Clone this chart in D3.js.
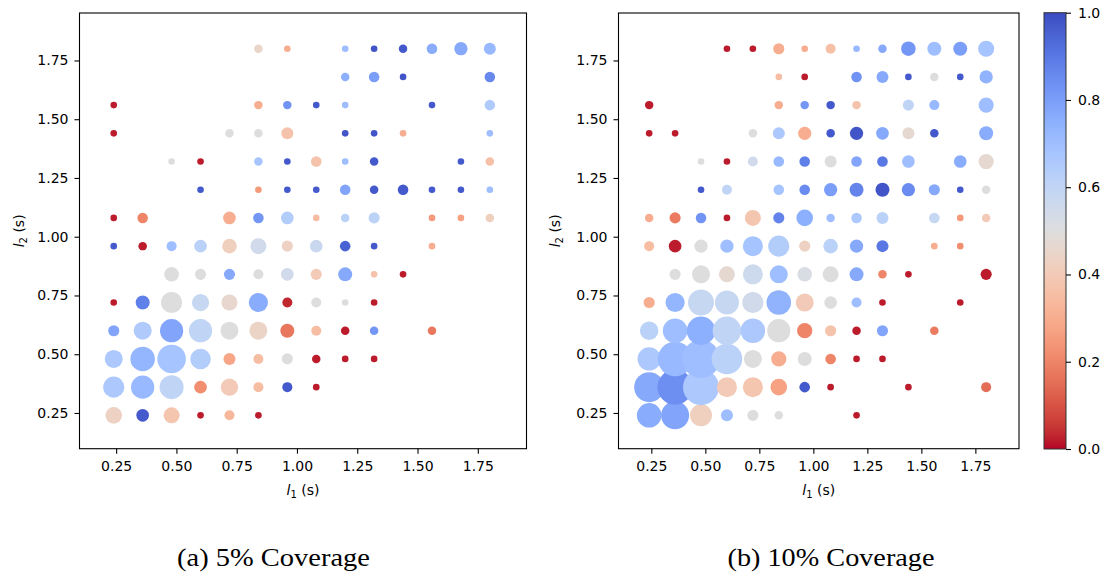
<!DOCTYPE html>
<html><head><meta charset="utf-8">
<script src="https://cdn.jsdelivr.net/npm/d3@7"></script>
<style>body{margin:0;background:#fff} svg{display:block}</style>
</head><body><svg id="c" width="1114" height="578"></svg>
<script>
// ---- data ----
const axisTicks = [0.25, 0.50, 0.75, 1.00, 1.25, 1.50, 1.75];
const colorbarTicks = [0.0, 0.2, 0.4, 0.6, 0.8, 1.0];
const captions = ["(a) 5% Coverage", "(b) 10% Coverage"];
// each point: [l1, l2, colour value, marker size]
const coverage5 = [
 [.84,1.80,.45,18],[.96,1.80,.30,11],[1.20,1.80,.70,11],[1.32,1.80,.98,11],[1.44,1.80,.97,18],[1.56,1.80,.76,28],[1.68,1.80,.77,44],[1.80,1.80,.72,36],
 [1.20,1.68,.75,18],[1.32,1.68,.80,28],[1.44,1.68,.98,11],[1.80,1.68,.86,28],
 [.24,1.56,.02,11],[.84,1.56,.30,18],[.96,1.56,.83,18],[1.08,1.56,.97,11],[1.20,1.56,.70,11],[1.56,1.56,.97,11],[1.80,1.56,.65,28],
 [.24,1.44,.02,11],[.72,1.44,.50,18],[.84,1.44,.50,18],[.96,1.44,.37,36],[1.20,1.44,.98,11],[1.32,1.44,.98,11],[1.44,1.44,.30,11],[1.80,1.44,.70,11],
 [.48,1.32,.50,11],[.60,1.32,.02,11],[.84,1.32,.68,18],[.96,1.32,.97,11],[1.08,1.32,.37,28],[1.20,1.32,.70,11],[1.32,1.32,.97,18],[1.68,1.32,.97,11],[1.80,1.32,.36,18],
 [.60,1.20,.97,11],[.84,1.20,.25,11],[.96,1.20,.97,11],[1.08,1.20,.97,11],[1.20,1.20,.78,28],[1.32,1.20,.97,18],[1.44,1.20,.97,28],[1.56,1.20,.97,11],[1.68,1.20,.97,11],[1.80,1.20,.70,11],
 [.24,1.08,.02,11],[.36,1.08,.20,28],[.72,1.08,.30,40],[.84,1.08,.82,28],[.96,1.08,.64,40],[1.08,1.08,.35,11],[1.20,1.08,.62,18],[1.32,1.08,.61,31],[1.56,1.08,.25,11],[1.68,1.08,.27,11],[1.80,1.08,.42,18],
 [.24,.96,.97,11],[.36,.96,.02,18],[.48,.96,.70,25],[.60,.96,.62,40],[.72,.96,.42,53],[.84,.96,.55,64],[.96,.96,.43,31],[1.08,.96,.57,40],[1.20,.96,.95,28],[1.32,.96,.97,11],[1.56,.96,.30,11],
 [.48,.84,.50,53],[.60,.84,.50,31],[.72,.84,.77,31],[.84,.84,.50,25],[.96,.84,.55,40],[1.08,.84,.40,31],[1.20,.84,.77,49],[1.32,.84,.37,11],[1.44,.84,.02,11],
 [.24,.72,.02,11],[.36,.72,.88,49],[.48,.72,.50,112],[.60,.72,.58,74],[.72,.72,.46,64],[.84,.72,.76,92],[.96,.72,.03,25],[1.08,.72,.50,25],[1.20,.72,.50,11],[1.32,.72,.02,11],
 [.24,.60,.78,31],[.36,.60,.65,81],[.48,.60,.78,135],[.60,.60,.60,135],[.72,.60,.50,81],[.84,.60,.44,81],[.96,.60,.17,49],[1.08,.60,.35,25],[1.20,.60,.02,18],[1.32,.60,.82,18],[1.56,.60,.17,18],
 [.24,.48,.66,81],[.36,.48,.73,151],[.48,.48,.68,204],[.60,.48,.64,106],[.72,.48,.28,36],[.84,.48,.35,25],[.96,.48,.50,31],[1.08,.48,.02,18],[1.20,.48,.02,11],[1.32,.48,.02,11],
 [.24,.36,.66,112],[.36,.36,.72,135],[.48,.36,.60,144],[.60,.36,.22,40],[.72,.36,.40,74],[.84,.36,.35,25],[.96,.36,.97,25],[1.08,.36,.02,11],
 [.24,.24,.43,69],[.36,.24,.97,40],[.48,.24,.38,64],[.60,.24,.02,11],[.72,.24,.33,25],[.84,.24,.02,11]
];
const coverage10 = [
 [.60,1.80,.02,11],[.72,1.80,.02,11],[.84,1.80,.30,31],[.96,1.80,.30,11],[1.08,1.80,.36,25],[1.20,1.80,.72,11],[1.32,1.80,.77,18],[1.44,1.80,.82,53],[1.56,1.80,.70,49],[1.68,1.80,.80,49],[1.80,1.80,.68,64],
 [.84,1.68,.35,11],[.96,1.68,.02,11],[1.20,1.68,.83,28],[1.32,1.68,.77,36],[1.44,1.68,.97,11],[1.56,1.68,.50,18],[1.68,1.68,.97,11],[1.80,1.68,.74,44],
 [.24,1.56,.02,18],[.84,1.56,.30,18],[.96,1.56,.82,18],[1.08,1.56,.97,18],[1.20,1.56,.37,18],[1.44,1.56,.60,31],[1.56,1.56,.72,25],[1.80,1.56,.70,58],
 [.24,1.44,.02,11],[.36,1.44,.02,11],[.72,1.44,.50,18],[.84,1.44,.66,36],[.96,1.44,.30,44],[1.08,1.44,.97,18],[1.20,1.44,.98,44],[1.32,1.44,.77,40],[1.44,1.44,.47,36],[1.56,1.44,.97,18],[1.80,1.44,.76,49],
 [.48,1.32,.50,11],[.60,1.32,.02,11],[.72,1.32,.55,25],[.84,1.32,.72,28],[.96,1.32,.88,28],[1.08,1.32,.50,36],[1.20,1.32,.78,28],[1.32,1.32,.90,28],[1.44,1.32,.70,40],[1.68,1.32,.76,40],[1.80,1.32,.47,58],
 [.48,1.20,.97,11],[.60,1.20,.60,25],[.84,1.20,.68,28],[.96,1.20,.85,28],[1.08,1.20,.80,44],[1.20,1.20,.87,49],[1.32,1.20,.98,49],[1.44,1.20,.85,44],[1.56,1.20,.77,31],[1.68,1.20,.97,11],[1.80,1.20,.50,18],
 [.24,1.08,.30,18],[.36,1.08,.18,31],[.48,1.08,.83,28],[.60,1.08,.02,11],[.72,1.08,.38,64],[.84,1.08,.87,31],[.96,1.08,.75,69],[1.08,1.08,.70,18],[1.20,1.08,.66,28],[1.32,1.08,.62,36],[1.56,1.08,.58,28],[1.68,1.08,.25,11],[1.80,1.08,.40,18],
 [.24,.96,.35,25],[.36,.96,.02,40],[.48,.96,.50,44],[.60,.96,.70,44],[.72,.96,.68,100],[.84,.96,.64,112],[.96,.96,.43,31],[1.08,.96,.62,53],[1.20,.96,.77,44],[1.32,.96,.90,36],[1.56,.96,.30,11],[1.68,.96,.22,11],
 [.36,.84,.50,31],[.48,.84,.50,81],[.60,.84,.47,64],[.72,.84,.56,100],[.84,.84,.70,81],[.96,.84,.52,53],[1.08,.84,.50,64],[1.20,.84,.77,49],[1.32,.84,.20,18],[1.44,.84,.02,11],[1.80,.84,.02,31],
 [.24,.72,.30,31],[.36,.72,.73,92],[.48,.72,.58,169],[.60,.72,.58,144],[.72,.72,.55,112],[.84,.72,.74,151],[.96,.72,.40,81],[1.08,.72,.50,40],[1.20,.72,.70,25],[1.32,.72,.02,11],[1.68,.72,.02,11],
 [.24,.60,.62,86],[.36,.60,.70,151],[.48,.60,.75,204],[.60,.60,.60,204],[.72,.60,.66,151],[.84,.60,.50,135],[.96,.60,.20,58],[1.08,.60,.37,31],[1.20,.60,.02,18],[1.32,.60,.78,31],[1.56,.60,.18,18],
 [.24,.48,.66,135],[.36,.48,.72,299],[.48,.48,.70,361],[.60,.48,.62,234],[.72,.48,.50,81],[.84,.48,.30,58],[.96,.48,.50,49],[1.08,.48,.20,28],[1.20,.48,.02,11],[1.32,.48,.02,11],
 [.24,.36,.77,225],[.36,.36,.84,310],[.48,.36,.66,324],[.60,.36,.40,100],[.72,.36,.38,100],[.84,.36,.27,69],[.96,.36,.97,28],[1.08,.36,.02,11],[1.44,.36,.02,11],[1.80,.36,.15,25],
 [.24,.24,.76,151],[.36,.24,.78,196],[.48,.24,.42,121],[.60,.24,.70,36],[.72,.24,.50,31],[.84,.24,.50,18],[1.20,.24,.02,11]
];

// ---- coolwarm colormap (Moreland), reversed: 0 = red, 1 = blue ----
const coolwarmTable = [
 [59,76,192],[68,90,204],[77,104,215],[87,117,225],[98,130,234],[108,142,241],[119,154,247],[130,165,251],
 [141,176,254],[152,185,255],[163,194,255],[174,201,253],[184,208,249],[194,213,244],[204,217,238],[213,219,230],
 [221,221,221],[229,216,209],[236,211,197],[241,204,185],[245,196,173],[247,187,160],[247,177,148],[247,166,135],
 [244,154,123],[241,141,111],[236,127,99],[229,112,88],[222,96,77],[213,80,66],[203,62,56],[192,40,47],[180,4,38]
];
const coolwarm = d3.scaleLinear()
  .domain(d3.range(coolwarmTable.length).map(i => i / (coolwarmTable.length - 1)))
  .range(coolwarmTable.map(c => `rgb(${c[0]},${c[1]},${c[2]})`))
  .interpolate(d3.interpolateRgb);
const color = v => coolwarm(1 - v);

const svg = d3.select("#c");
const FONT = "'DejaVu Sans', sans-serif";
const fmt = d3.format(".2f");

const plotTop = 13, plotBottom = 448.7;
const domain = [0.098, 1.952];
const size = d3.scaleSqrt().domain([0, 400]).range([0, 20]);

const panels = [
  {data: coverage5, left: 79.5, right: 526.5, ylab: 24, cap: captions[0], capX: 273.5, capW: 193},
  {data: coverage10, left: 618.5, right: 1019, ylab: 560, cap: captions[1], capX: 831, capW: 207}
];

panels.forEach(p => {
  const x = d3.scaleLinear().domain(domain).range([p.left, p.right]);
  const y = d3.scaleLinear().domain(domain).range([plotBottom, plotTop]);
  const g = svg.append("g");
  const pts = p.data.slice().sort((a, b) => a[1] - b[1] || a[0] - b[0]);
  g.selectAll("circle").data(pts).join("circle")
    .attr("cx", d => x(d[0])).attr("cy", d => y(d[1]))
    .attr("r", d => size(d[3]))
    .attr("fill", d => color(d[2]));

  const xa = g.append("g").attr("transform", `translate(0,${plotBottom})`)
    .call(d3.axisBottom(x).tickValues(axisTicks).tickFormat(fmt).tickSize(5).tickPadding(7));
  const ya = g.append("g").attr("transform", `translate(${p.left},0)`)
    .call(d3.axisLeft(y).tickValues(axisTicks).tickFormat(fmt).tickSize(5).tickPadding(6));
  [xa, ya].forEach(a => {
    a.select(".domain").remove();
    a.selectAll("line").attr("stroke", "#000").attr("stroke-width", 1.1);
    a.selectAll("text").attr("font-family", FONT).attr("font-size", 14).attr("fill", "#000");
  });
  g.append("rect").attr("x", p.left).attr("y", plotTop)
    .attr("width", p.right - p.left).attr("height", plotBottom - plotTop)
    .attr("fill", "none").attr("stroke", "#000").attr("stroke-width", 1.1);

  const xl = g.append("text").attr("x", (p.left + p.right) / 2).attr("y", 495)
    .attr("text-anchor", "middle").attr("font-family", FONT).attr("font-size", 14);
  xl.append("tspan").attr("font-style", "italic").text("l");
  xl.append("tspan").attr("font-size", 10).attr("dy", 3).text("1");
  xl.append("tspan").attr("dy", -3).text(" (s)");

  const yl = g.append("text").attr("transform", `translate(${p.ylab},${(plotTop + plotBottom) / 2}) rotate(-90)`)
    .attr("text-anchor", "middle").attr("font-family", FONT).attr("font-size", 14);
  yl.append("tspan").attr("font-style", "italic").text("l");
  yl.append("tspan").attr("font-size", 10).attr("dy", 3).text("2");
  yl.append("tspan").attr("dy", -3).text(" (s)");

  svg.append("text").attr("x", p.capX - p.capW / 2).attr("y", 566)
    .attr("font-family", "'Liberation Serif', serif").attr("font-size", 26)
    .attr("textLength", p.capW).attr("lengthAdjust", "spacingAndGlyphs")
    .text(p.cap);
});

// ---- colorbar ----
const cbL = 1044, cbR = 1066, cbT = 12.7, cbB = 449;
const defs = svg.append("defs");
const grad = defs.append("linearGradient").attr("id", "cw")
  .attr("x1", 0).attr("y1", 1).attr("x2", 0).attr("y2", 0);
d3.range(0, 1.0001, 0.02).forEach(t => grad.append("stop").attr("offset", t).attr("stop-color", color(t)));
svg.append("rect").attr("x", cbL).attr("y", cbT).attr("width", cbR - cbL).attr("height", cbB - cbT)
  .attr("fill", "url(#cw)").attr("stroke", "#333").attr("stroke-width", 1);
const cy = d3.scaleLinear().domain([0, 1]).range([cbB, cbT]);
const ca = svg.append("g").attr("transform", `translate(${cbR},0)`)
  .call(d3.axisRight(cy).tickValues(colorbarTicks).tickFormat(d3.format(".1f")).tickSize(5).tickPadding(7));
ca.select(".domain").remove();
ca.selectAll("line").attr("stroke", "#000").attr("stroke-width", 1.1);
ca.selectAll("text").attr("font-family", FONT).attr("font-size", 14).attr("fill", "#000");
</script></body></html>
